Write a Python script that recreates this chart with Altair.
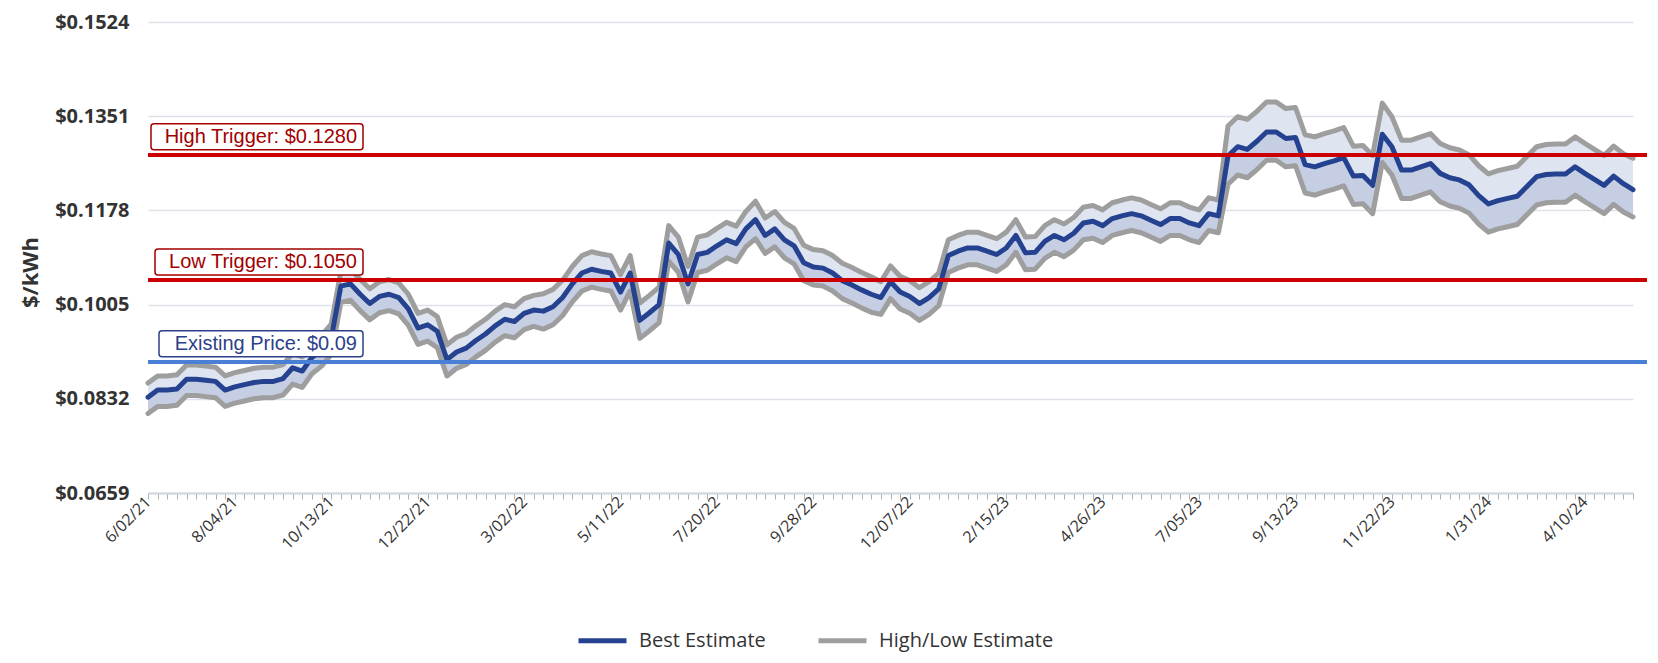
import json
import altair as alt
import pandas as pd

# ---------------- data ----------------
start_date = "2021-06-02"

best = [
    0.0835, 0.0848, 0.0848, 0.0850, 0.0868, 0.0868, 0.0866, 0.0864, 0.0848, 0.0854,
    0.0858, 0.0862, 0.0864, 0.0864, 0.0869, 0.0889, 0.0883, 0.0908, 0.0922, 0.0943,
    0.1039, 0.1043, 0.1024, 0.1007, 0.1020, 0.1024, 0.1018, 0.0997, 0.0962, 0.0968,
    0.0956, 0.0904, 0.0918, 0.0925, 0.0939, 0.0951, 0.0966, 0.0978, 0.0974, 0.0989,
    0.0995, 0.0993, 0.1001, 0.1018, 0.1043, 0.1063, 0.1070, 0.1066, 0.1063, 0.1028,
    0.1063, 0.0976, 0.0990, 0.1005, 0.1118, 0.1097, 0.1043, 0.1097, 0.1101, 0.1113,
    0.1124, 0.1117, 0.1144, 0.1161, 0.1132, 0.1144, 0.1124, 0.1113, 0.1082, 0.1074,
    0.1072, 0.1063, 0.1049, 0.1041, 0.1032, 0.1024, 0.1018, 0.1047, 0.1028, 0.1020,
    0.1007, 0.1018, 0.1034, 0.1095, 0.1103, 0.1109, 0.1109, 0.1103, 0.1097, 0.1109,
    0.1132, 0.1100, 0.1101, 0.1121, 0.1132, 0.1124, 0.1136, 0.1155, 0.1158, 0.1150,
    0.1163, 0.1168, 0.1172, 0.1168, 0.1160, 0.1152, 0.1163, 0.1163, 0.1155, 0.1150,
    0.1172, 0.1168, 0.1278, 0.1295, 0.1290, 0.1305, 0.1322, 0.1322, 0.1310, 0.1312,
    0.1262, 0.1258, 0.1264, 0.1269, 0.1275, 0.1241, 0.1242, 0.1224, 0.1318, 0.1295,
    0.1252, 0.1252, 0.1258, 0.1264, 0.1246, 0.1238, 0.1234, 0.1225, 0.1205, 0.1190,
    0.1196, 0.1200, 0.1204, 0.1222, 0.1240, 0.1244, 0.1245, 0.1245, 0.1258, 0.1246,
    0.1235, 0.1224, 0.1241, 0.1227, 0.1216,
]

high = [
    0.0861, 0.0874, 0.0874, 0.0876, 0.0894, 0.0894, 0.0892, 0.0890, 0.0874, 0.0880,
    0.0884, 0.0888, 0.0890, 0.0890, 0.0895, 0.0915, 0.0909, 0.0934, 0.0948, 0.0969,
    0.1066, 0.1070, 0.1051, 0.1034, 0.1047, 0.1051, 0.1045, 0.1024, 0.0989, 0.0995,
    0.0983, 0.0931, 0.0945, 0.0952, 0.0966, 0.0978, 0.0993, 0.1005, 0.1001, 0.1016,
    0.1022, 0.1025, 0.1033, 0.1050, 0.1075, 0.1095, 0.1102, 0.1098, 0.1095, 0.1060,
    0.1095, 0.1008, 0.1022, 0.1037, 0.1150, 0.1129, 0.1075, 0.1129, 0.1133, 0.1145,
    0.1156, 0.1149, 0.1176, 0.1195, 0.1164, 0.1176, 0.1156, 0.1145, 0.1114, 0.1106,
    0.1104, 0.1095, 0.1081, 0.1073, 0.1064, 0.1056, 0.1047, 0.1076, 0.1057, 0.1049,
    0.1036, 0.1047, 0.1063, 0.1124, 0.1132, 0.1138, 0.1138, 0.1132, 0.1126, 0.1138,
    0.1161, 0.1129, 0.1130, 0.1150, 0.1161, 0.1153, 0.1165, 0.1184, 0.1187, 0.1179,
    0.1192, 0.1197, 0.1201, 0.1197, 0.1189, 0.1181, 0.1192, 0.1192, 0.1184, 0.1179,
    0.1201, 0.1197, 0.1333, 0.1350, 0.1345, 0.1360, 0.1377, 0.1377, 0.1365, 0.1367,
    0.1317, 0.1313, 0.1319, 0.1324, 0.1330, 0.1296, 0.1297, 0.1279, 0.1375, 0.1350,
    0.1307, 0.1307, 0.1313, 0.1319, 0.1301, 0.1293, 0.1289, 0.1280, 0.1260, 0.1245,
    0.1251, 0.1255, 0.1259, 0.1277, 0.1295, 0.1299, 0.1300, 0.1300, 0.1313, 0.1301,
    0.1290, 0.1279, 0.1296, 0.1282, 0.1274,
]

low = [
    0.0805, 0.0818, 0.0818, 0.0820, 0.0838, 0.0838, 0.0836, 0.0834, 0.0818, 0.0824,
    0.0828, 0.0832, 0.0834, 0.0834, 0.0839, 0.0859, 0.0853, 0.0878, 0.0892, 0.0913,
    0.1009, 0.1013, 0.0994, 0.0977, 0.0990, 0.0994, 0.0988, 0.0967, 0.0932, 0.0938,
    0.0926, 0.0874, 0.0888, 0.0895, 0.0909, 0.0921, 0.0936, 0.0948, 0.0944, 0.0959,
    0.0965, 0.0960, 0.0968, 0.0985, 0.1010, 0.1030, 0.1037, 0.1033, 0.1030, 0.0995,
    0.1030, 0.0943, 0.0957, 0.0972, 0.1085, 0.1064, 0.1010, 0.1064, 0.1068, 0.1080,
    0.1091, 0.1084, 0.1111, 0.1126, 0.1099, 0.1111, 0.1091, 0.1080, 0.1049, 0.1041,
    0.1039, 0.1030, 0.1016, 0.1008, 0.0999, 0.0991, 0.0987, 0.1016, 0.0997, 0.0989,
    0.0976, 0.0987, 0.1003, 0.1064, 0.1072, 0.1078, 0.1078, 0.1072, 0.1066, 0.1078,
    0.1101, 0.1069, 0.1070, 0.1090, 0.1101, 0.1093, 0.1105, 0.1124, 0.1127, 0.1119,
    0.1132, 0.1137, 0.1141, 0.1137, 0.1129, 0.1121, 0.1132, 0.1132, 0.1124, 0.1119,
    0.1141, 0.1137, 0.1226, 0.1243, 0.1238, 0.1253, 0.1270, 0.1270, 0.1258, 0.1260,
    0.1210, 0.1206, 0.1212, 0.1217, 0.1223, 0.1189, 0.1190, 0.1172, 0.1266, 0.1243,
    0.1200, 0.1200, 0.1206, 0.1212, 0.1194, 0.1186, 0.1182, 0.1173, 0.1153, 0.1138,
    0.1144, 0.1148, 0.1152, 0.1170, 0.1188, 0.1192, 0.1193, 0.1193, 0.1206, 0.1194,
    0.1183, 0.1172, 0.1189, 0.1175, 0.1166,
]

label_dates = [
    "6/02/21", "8/04/21", "10/13/21", "12/22/21", "3/02/22", "5/11/22", "7/20/22",
    "9/28/22", "12/07/22", "2/15/23", "4/26/23", "7/05/23", "9/13/23", "11/22/23",
    "1/31/24", "4/10/24",
]

y_ticks = [0.0659, 0.0832, 0.1005, 0.1178, 0.1351, 0.1524]

plot_line_values = [0.1280, 0.1050, 0.09]
plot_line_texts = ["High Trigger: $0.1280", "Low Trigger: $0.1050", "Existing Price: $0.09"]

series_names = ["Best Estimate", "High/Low Estimate"]

# ---------------- styling ----------------
W, H = 1485, 471
BLUE = "#24428f"
GRAY = "#9e9e9e"
BAND_HI = "#dfe4f1"
BAND_LO = "#c6cee4"
line_colors = ["#cc0000", "#cc0000", "#4a7fd6"]
text_colors = ["#a30000", "#a30000", "#2c3f8a"]
box_lefts = [3, 7, 11]

dates = pd.date_range(start_date, periods=len(best), freq="7D")
weeks = [f"{d.month}/{d.day:02d}/{d.year % 100:02d}" for d in dates]

df = pd.DataFrame({"week": weeks, "best": best, "high": high, "low": low})

df_hl = pd.concat([
    pd.DataFrame({"week": weeks, "value": high, "series": series_names[1], "which": "high"}),
    pd.DataFrame({"week": weeks, "value": low, "series": series_names[1], "which": "low"}),
])
df_best = pd.DataFrame({"week": weeks, "value": best, "series": series_names[0], "which": "best"})

label_expr = "indexof(" + json.dumps(label_dates) + ", datum.label) >= 0 ? datum.label : ''"

x_enc = alt.X(
    "week:O",
    sort=weeks,
    scale=alt.Scale(type="point", padding=0),
    axis=alt.Axis(
        title=None,
        labelExpr=label_expr,
        labelOverlap=False,
        labelAngle=315,
        labelAlign="right",
        labelBaseline="middle",
        labelFont="Open Sans",
        labelFontSize=16,
        labelColor="#333333",
        labelPadding=0,
        ticks=True,
        tickSize=6,
        tickColor="#b0b0b0",
        tickWidth=1,
        domainColor="#cfd5de",
        domainWidth=2,
        grid=False,
    ),
)

y_scale = alt.Scale(domain=[y_ticks[0], y_ticks[-1]], nice=False, zero=False)
y_axis = alt.Axis(
    values=y_ticks,
    format="$.4f",
    labelFont="Open Sans",
    labelFontWeight="bold",
    labelFontSize=20,
    labelColor="#333333",
    labelPadding=19,
    ticks=False,
    domain=False,
    grid=True,
    gridColor="#dde2ea",
    gridWidth=1.5,
    title="$/kWh",
    titleFont="Open Sans",
    titleFontSize=22,
    titleFontWeight="bold",
    titleColor="#333333",
    titleAngle=270,
    titleX=-118,
    titleY=250,
    titleAlign="center",
    titleBaseline="middle",
)

base = alt.Chart(df)

band_hi = base.mark_area(color=BAND_HI, opacity=1).encode(
    x=x_enc, y=alt.Y("high:Q", scale=y_scale, axis=y_axis), y2="best:Q"
)
band_lo = base.mark_area(color=BAND_LO, opacity=1).encode(
    x=x_enc, y=alt.Y("best:Q", scale=y_scale, axis=y_axis), y2="low:Q"
)

color_enc = alt.Color(
    "series:N",
    scale=alt.Scale(domain=series_names, range=[BLUE, GRAY]),
    legend=alt.Legend(
        title=None,
        orient="none",
        legendX=428,
        legendY=592,
        direction="horizontal",
        symbolType="stroke",
        symbolSize=2304,
        symbolStrokeWidth=5,
        labelFont="Open Sans",
        labelFontSize=20,
        labelColor="#333333",
        labelOffset=10,
        labelLimit=400,
        columnPadding=42,
    ),
)

hl_lines = alt.Chart(df_hl).mark_line(strokeWidth=5, strokeJoin="round", strokeCap="round").encode(
    x=x_enc,
    y=alt.Y("value:Q", scale=y_scale, axis=y_axis),
    color=color_enc,
    detail="which:N",
)
best_line = alt.Chart(df_best).mark_line(strokeWidth=5, strokeJoin="round", strokeCap="round").encode(
    x=x_enc,
    y=alt.Y("value:Q", scale=y_scale, axis=y_axis),
    color=color_enc,
)

layers = [band_hi, band_lo, hl_lines, best_line]

first_week = weeks[0]
for v, txt, lc, tc, bl in zip(plot_line_values, plot_line_texts, line_colors, text_colors, box_lefts):
    rule = alt.Chart(df).mark_rule(color=lc, strokeWidth=3).encode(
        y=alt.datum(v, scale=y_scale), x=alt.value(0), x2=alt.value(W + 14)
    )
    box = alt.Chart(df).mark_rect(
        fill="white", stroke=tc, strokeWidth=1.5, cornerRadius=3, yOffset=-31, y2Offset=-5
    ).encode(
        y=alt.datum(v, scale=y_scale), y2=alt.datum(v), x=alt.value(bl), x2=alt.value(215)
    ).transform_filter(f"datum.week == '{first_week}'")
    text = alt.Chart(df).mark_text(
        text=txt, align="right", baseline="middle", dy=-18, font="Liberation Sans",
        fontSize=20, color=tc,
    ).encode(
        y=alt.datum(v, scale=y_scale), x=alt.value(209)
    ).transform_filter(f"datum.week == '{first_week}'")
    layers += [rule, box, text]

chart = alt.layer(*layers).properties(
    width=W,
    height=H,
    autosize=alt.AutoSizeParams(type="none"),
    padding={"left": 140, "top": 14, "right": 17, "bottom": 162},
    background="white",
).configure_view(stroke=None)

chart.save("out.html", embed_options={"renderer": "svg", "actions": False})
